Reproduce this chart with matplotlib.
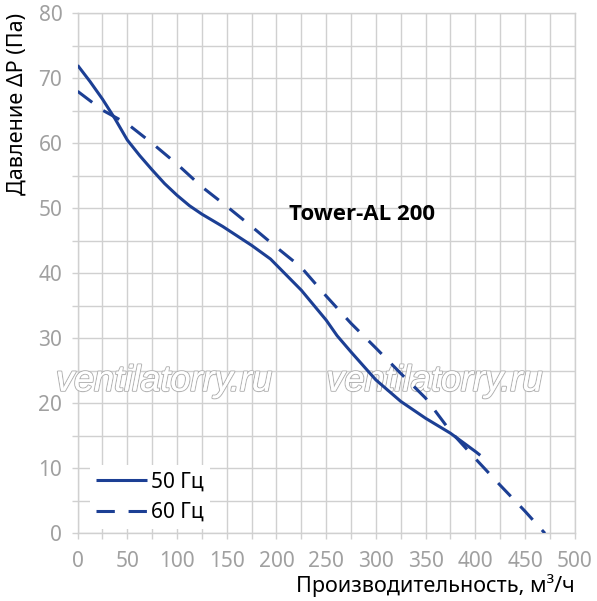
import matplotlib
matplotlib.use("Agg")
import matplotlib.pyplot as plt
import matplotlib.patheffects as pe
from matplotlib.ticker import MultipleLocator

plt.rcParams['font.family'] = ['Noto Sans', 'DejaVu Sans']

# 50 Hz curve (flow m3/h, pressure Pa)
flow_50 = [0, 12.5, 25, 37.5, 50, 62.5, 75, 87.5, 100, 112.5, 125, 146, 175, 194,
           225, 250, 261, 275, 300, 325, 350, 375, 400, 405]
pres_50 = [72.0, 69.5, 66.8, 63.8, 60.5, 58.1, 55.9, 53.8, 52.0, 50.4, 49.1, 47.2, 44.3, 42.2,
           37.4, 32.8, 30.4, 27.9, 23.6, 20.3, 17.7, 15.4, 12.6, 12.0]

# 60 Hz curve
flow_60 = [0, 25, 50, 75, 100, 125, 150, 175, 200, 225, 250, 275, 300, 325, 350, 375, 400, 425, 450, 470]
pres_60 = [68.0, 65.1, 63.0, 60.0, 56.8, 53.3, 50.3, 47.2, 44.0, 40.9, 36.5, 32.3, 28.5, 24.6, 20.8, 15.7, 11.5, 7.4, 3.4, 0.0]

labels = ["50 Гц", "60 Гц"]
title = "Tower-AL 200"
xlabel = "Производительность, м³/ч"
ylabel = "Давление ΔP (Па)"
watermark = "ventilatorry.ru"

line_color = "#1c3f94"
grid_color = "#d0d0d0"
tick_color = "#a0a0a0"

fig = plt.figure(figsize=(5.97, 6.01), dpi=100)
ax = fig.add_axes([0.130, 0.1126, 0.8327, 0.8653])

ax.set_xlim(0, 500)
ax.set_ylim(0, 80)
ax.xaxis.set_major_locator(MultipleLocator(50))
ax.xaxis.set_minor_locator(MultipleLocator(25))
ax.yaxis.set_major_locator(MultipleLocator(10))
ax.yaxis.set_minor_locator(MultipleLocator(5))
ax.grid(True, which='both', color=grid_color, lw=1.0)
ax.set_axisbelow(True)
for s in ax.spines.values():
    s.set_color(grid_color)
    s.set_linewidth(1.0)
ax.tick_params(which='both', length=4, width=1.0, color=grid_color,
               labelcolor=tick_color, labelsize=15)
ax.tick_params(axis='x', which='major', pad=9)
ax.tick_params(axis='y', which='major', pad=7)

ax.plot(flow_50, pres_50, color=line_color, lw=2.2, label=labels[0], zorder=4,
        solid_joinstyle='round', solid_capstyle='butt')
ax.plot(flow_60, pres_60, color=line_color, lw=2.2, label=labels[1], zorder=4,
        dashes=(6, 4.5), dash_capstyle='butt')

for wx in (87, 359):
    ax.text(wx, 23.4, watermark, family='Liberation Sans', style='italic',
            fontsize=26, color='white', ha='center', va='center', zorder=3,
            path_effects=[pe.withStroke(linewidth=1.6, foreground='#b4b4b4'),
                          pe.Normal()])

ax.text(286, 49, title, fontsize=16, fontweight='bold', color='black',
        family=['Open Sans', 'DejaVu Sans'],
        ha='center', va='center', zorder=5)

leg = ax.legend(loc='lower left', bbox_to_anchor=(0.003, -0.012), fontsize=15,
                handlelength=2.45, frameon=True, framealpha=1, facecolor='white',
                edgecolor='none', borderpad=0.3, labelspacing=0.45, handletextpad=0.2,
                fancybox=False)
leg.set_zorder(6)

ax.set_xlabel(xlabel, fontsize=15.5, loc='right')
ax.set_ylabel(ylabel, fontsize=15.5, loc='top')
ax.xaxis.set_label_coords(1.0, -0.078)
ax.yaxis.set_label_coords(-0.10, 1.0)

fig.savefig("out.png", dpi=100)
